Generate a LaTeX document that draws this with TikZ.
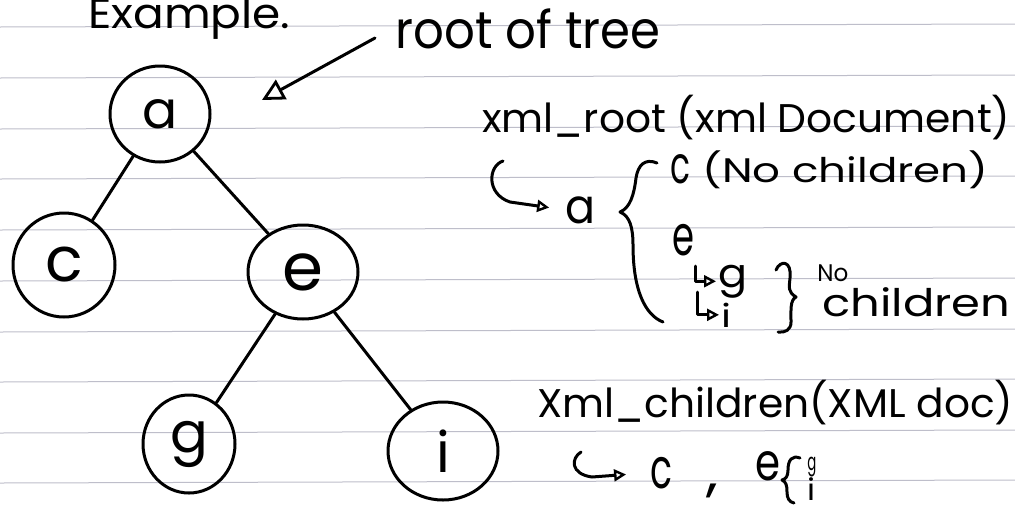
\documentclass[tikz,border=0pt]{standalone}
\usepackage{fontspec}
\setmainfont{Poppins}
\usetikzlibrary{shapes.geometric,arrows.meta}
\definecolor{ruleclr}{RGB}{190,190,202}
\newcommand\hw[3]{\resizebox{#1pt}{\height}{\fontsize{#2pt}{#2pt}\selectfont #3}}
\begin{document}
\begin{tikzpicture}[x=0.5pt,y=-0.5pt,
  ink/.style={line width=1.5pt, line cap=round, line join=round},
  tnode/.style={ellipse, draw, ink, inner sep=0pt},
  txt/.style={anchor=base west, inner sep=0pt},
  hooktip/.style={-{Triangle[open,length=6pt,width=6pt,line width=1.2pt]}},
  bigtip/.style={-{Triangle[open,length=11pt,width=11pt,line width=1.4pt]}},
  rulel/.style={line width=0.5pt, draw=ruleclr}
]
\fill[white] (0,0) rectangle (1015,509);
\useasboundingbox (0,0) rectangle (1015,509);
\clip (0,0) rectangle (1015,509);
\foreach \yy in {27,78,129,179,230,281,332,382,433,483}
  \draw[rulel] (0,\yy) -- (1015,\yy-3);

% tree
\node[tnode, minimum width=50pt, minimum height=48pt] (a) at (160,114) {\fontsize{26pt}{26pt}\selectfont a};
\node[tnode, minimum width=51pt, minimum height=52pt] (c) at (64,265) {\fontsize{31pt}{31pt}\selectfont c};
\node[tnode, minimum width=55pt, minimum height=47pt] (e) at (303,272) {\fontsize{33pt}{33pt}\selectfont e};
\node[tnode, minimum width=46pt, minimum height=49pt] (g) at (189,444) {\fontsize{28pt}{28pt}\selectfont g};
\node[tnode, minimum width=55pt, minimum height=49pt] (i) at (443,451) {\fontsize{28pt}{28pt}\selectfont i};
\draw[ink] (a) -- (c);
\draw[ink] (a) -- (e);
\draw[ink] (e) -- (g);
\draw[ink] (e) -- (i);

% headings
\node[txt] (ex) at (88,28) {\hw{101}{21}{Example.}};
\node[txt] (root) at (395,48) {\hw{132.5}{26}{root of tree}};
\coordinate (rtail) at (375,38);
\coordinate (rtip) at (262,100);
\draw[ink, bigtip] (rtail) -- (rtip);

% xml_root
\node[txt] (xr) at (482,132) {\hw{264}{20}{xml\_root (xml Document)}};
\coordinate (hka) at (503,161);
\node[txt] (ra) at (565,223) {\hw{15}{24}{a}};
\draw[ink, hooktip, shorten >=8pt] (hka) .. controls (488,166) and (486,194) .. (510,202) -- (ra.west);
\draw[ink] (657,163) .. controls (645,158) and (638,165) .. (636,178)
  .. controls (634,195) and (630,208) .. (620,212)
  .. controls (630,216) and (633,228) .. (633,245)
  .. controls (633,290) and (645,315) .. (663,322);
\node[txt] (r1c) at (670,183) {\hw{10}{26}{c}};
\node[txt] (nc1) at (702,182) {\hw{143}{17}{(No children)}};
\node[txt] (r1e) at (672,255) {\hw{11}{28}{e}};
\node[txt] (r1g) at (718,287) {\hw{14.5}{20}{g}};
\node[txt] (r1i) at (721,327) {\hw{5}{16}{i}};
\coordinate (Lg) at (695,266);
\coordinate (Li) at (697,292);
\draw[ink, hooktip, shorten >=1pt] (Lg) |- (r1g.west);
\draw[ink, hooktip, shorten >=1pt] (Li) |- (r1i.west);
\draw[ink] (776,270) .. controls (780,260) and (792,260) .. (790,278)
  .. controls (789,288) and (788,292) .. (796,297)
  .. controls (790,300) and (791,310) .. (791,322)
  .. controls (791,330) and (785,333) .. (778,332);
\node[txt] (no) at (817,281) {\hw{15.5}{12}{No}};
\node[txt] (ch) at (822,316) {\hw{94}{19}{children}};

% xml_children
\node[txt] (xc) at (537,417) {\hw{238}{20}{Xml\_children(XML doc)}};
\coordinate (hkc) at (581,452);
\node[txt] (rc) at (650,488) {\hw{11}{28}{c}};
\draw[ink, hooktip, shorten >=12pt] (hkc) .. controls (571,458) and (570,474) .. (592,477) -- (rc.west);
\node[txt] (cm) at (706,490) {\hw{6}{26}{,}};
\node[txt] (re) at (755,480) {\hw{12.5}{26}{e}};
\draw[ink] (800,458) .. controls (792,455) and (788,460) .. (788,470)
  .. controls (788,476) and (786,479) .. (782,480)
  .. controls (786,482) and (787,485) .. (787,492)
  .. controls (787,498) and (789,502) .. (794,503);
\node[txt] (sg) at (807,470) {\hw{4.5}{12}{g}};
\node[txt] (si) at (807,500) {\hw{4}{15}{i}};
\end{tikzpicture}
\end{document}
